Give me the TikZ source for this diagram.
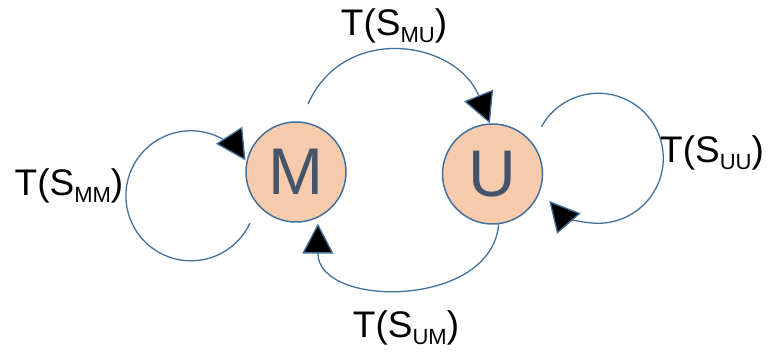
\documentclass[tikz,border=0pt]{standalone}
\usepackage{fontspec}
\setmainfont{Liberation Sans}
\usetikzlibrary{positioning,calc,arrows.meta}

\definecolor{statefill}{HTML}{F8CBAD}
\definecolor{stateline}{HTML}{41719C}
\definecolor{statetext}{HTML}{44546A}
\newcommand{\trans}[1]{T(S\raisebox{-7pt}{\fontsize{22}{22}\selectfont #1})}

\begin{document}
\begin{tikzpicture}[
        x=1pt, y=1pt,
        state/.style={circle, minimum size=100pt, inner sep=0pt, draw=stateline, line width=1.5pt, fill=statefill, text=statetext, font=\fontsize{66}{66}\selectfont},
        link/.style={draw=stateline, line width=1.3pt, -{Triangle[length=30pt, width=31pt, fill=black]}},
        translabel/.style={anchor=base, inner sep=0pt, font=\fontsize{37}{40}\selectfont}
    ]
        \useasboundingbox (0,0) rectangle (774,358);

        % --- States ---
        \node (M) [state] at (296,186) {M};
        \node (U) [state, right=95pt of M, yshift=-2pt] {U};

        % --- Loose ends of the connectors ---
        \coordinate (mm start) at ($(M.center)+(228:69)$);
        \coordinate (mu start) at ($(M.center)+(80:69)$);
        \coordinate (uu start) at ($(U.center)+(44:68)$);
        \coordinate (um end) at ($(M.center)+(-67:56)$);

        % --- Transitions ---
        \draw [link] (mm start) arc[start angle=-25, end angle=-327, radius=65];
        \draw [link] (mu start) to[out=66, in=112, looseness=1.25] (U.93);
        \draw [link] (uu start) arc[start angle=151, end angle=-139, radius=65];
        \draw [link] (U.-83) to[out=-95, in=-90, looseness=1.2] (um end);

        % --- Labels ---
        \node (mu label) [translabel] at (394,322) {\trans{MU}};
        \node (mm label) [translabel] at (69,162) {\trans{MM}};
        \node (uu label) [translabel] at (712,195) {\trans{UU}};
        \node (um label) [translabel] at (406,20) {\trans{UM}};

    \end{tikzpicture}
\end{document}
